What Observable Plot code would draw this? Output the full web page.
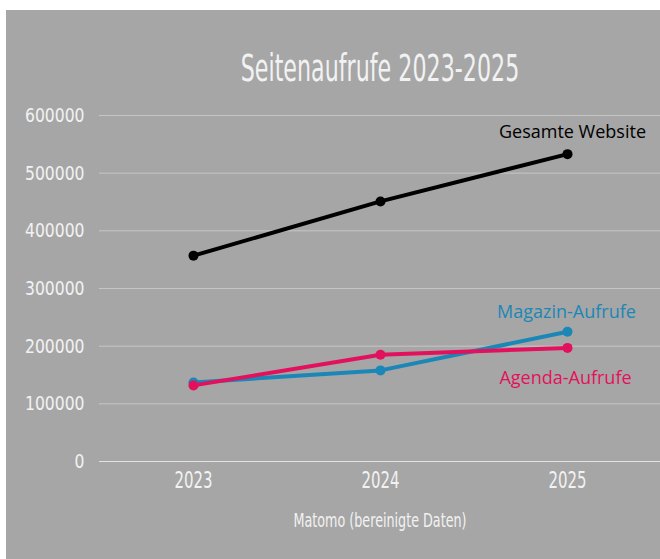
<!DOCTYPE html>
<html>
<head>
<meta charset="utf-8">
<script src="https://cdn.jsdelivr.net/npm/d3@7"></script>
<script src="https://cdn.jsdelivr.net/npm/@observablehq/plot@0.6"></script>
<style>
  html, body { margin: 0; padding: 0; background: #ffffff; }
  #panel { position: absolute; left: 6px; top: 10px; width: 654px; height: 549px; background: #a6a6a6; }
  .cond-title, .cond-title text, .cond-y, .cond-y text, .cond-x, .cond-x text, .cond-cap, .cond-cap text { font-family: "DejaVu Sans", sans-serif; }
  .os, .os text { font-family: "Open Sans", sans-serif; }
</style>
</head>
<body>
<div id="panel"></div>
<script>
const years = ["2023", "2024", "2025"];
const gesamt = [357000, 451000, 533000];
const magazin = [137000, 158000, 225000];
const agenda = [132000, 185000, 197000];
const seriesNames = ["Gesamte Website", "Magazin-Aufrufe", "Agenda-Aufrufe"];
const seriesColors = ["#000000", "#1b87b6", "#e3115d"];
const yTicks = [0, 100000, 200000, 300000, 400000, 500000, 600000];
const titleText = "Seitenaufrufe 2023-2025";
const captionText = "Matomo (bereinigte Daten)";

const seriesValues = [gesamt, magazin, agenda];
const rows = [];
seriesNames.forEach((s, i) => years.forEach((y, j) => rows.push({series: s, year: y, value: seriesValues[i][j]})));
const lastRows = rows.filter(d => d.year === years[years.length - 1]);

const chart = Plot.plot({
  width: 654,
  height: 549,
  marginLeft: 93,
  marginRight: 0,
  marginTop: 105,
  marginBottom: 98,
  style: { background: "#a6a6a6", color: "#f2f2f2", overflow: "visible" },
  x: { type: "point", domain: years, padding: 0.5, label: null },
  y: { domain: [0, 600000], ticks: yTicks, label: null },
  color: { domain: seriesNames, range: seriesColors },
  marks: [
    Plot.gridY(yTicks.filter(t => t > 0), { stroke: "#c6c6c6", strokeOpacity: 1, strokeWidth: 1 }),
    Plot.ruleY([0], { stroke: "#e2e2e2", strokeWidth: 1.2 }),
    Plot.axisY({ ticks: yTicks, tickSize: 0, tickPadding: 15, tickFormat: d => String(d), fontSize: 20, fill: "#f2f2f2", label: null, className: "cond-y" }),
    Plot.axisX({ tickSize: 0, tickPadding: 10, fontSize: 23, fill: "#f2f2f2", label: null, className: "cond-x" }),
    Plot.line(rows, { x: "year", y: "value", z: "series", stroke: "series", strokeWidth: 4, strokeLinecap: "round", strokeLinejoin: "round" }),
    Plot.dot(rows, { x: "year", y: "value", fill: "series", r: 5 }),
    Plot.text(lastRows.filter(d => d.series === seriesNames[0]), { x: "year", y: "value", text: "series", fill: "series", dx: 5, dy: -22, fontSize: 18, className: "os" }),
    Plot.text(lastRows.filter(d => d.series === seriesNames[1]), { x: "year", y: "value", text: "series", fill: "series", dx: -1, dy: -20, fontSize: 18, className: "os" }),
    Plot.text(lastRows.filter(d => d.series === seriesNames[2]), { x: "year", y: "value", text: "series", fill: "series", dx: -2, dy: 30, fontSize: 18, className: "os" }),
    Plot.text([titleText], { frameAnchor: "top", lineAnchor: "middle", dy: -46.5, text: d => d, fontSize: 37, fill: "#f2f2f2", className: "cond-title" }),
    Plot.text([captionText], { frameAnchor: "bottom", lineAnchor: "middle", dy: 59, text: d => d, fontSize: 19, fill: "#f2f2f2", className: "cond-cap" })
  ]
});
document.getElementById("panel").appendChild(chart);

// emulate a condensed typeface by compressing glyphs horizontally
const squeeze = { "cond-title": 0.60, "cond-y": 0.78, "cond-x": 0.65, "cond-cap": 0.67 };
Object.entries(squeeze).forEach(([cls, f]) => {
  chart.querySelectorAll("." + cls + " text").forEach(t => {
    const len = t.getComputedTextLength();
    if (len > 0) {
      t.setAttribute("textLength", (len * f).toFixed(2));
      t.setAttribute("lengthAdjust", "spacingAndGlyphs");
    }
  });
});
</script>
</body>
</html>
